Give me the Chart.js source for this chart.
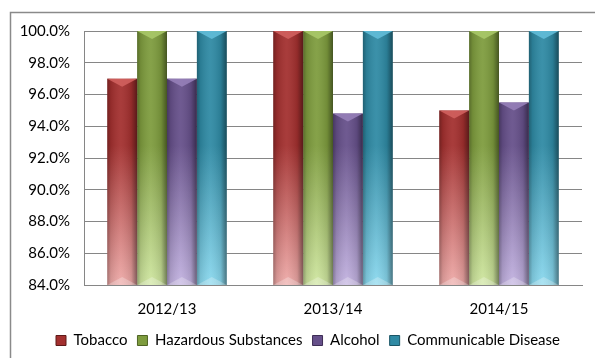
<!DOCTYPE html>
<html>
<head>
<meta charset="utf-8">
<script src="https://cdn.jsdelivr.net/npm/chart.js@4"></script>
<style>
  html, body { margin: 0; padding: 0; background: #fff; }
  #wrap { width: 595px; height: 358px; position: relative; }
</style>
</head>
<body>
<div id="wrap"><canvas id="c"></canvas></div>
<script>
const years = ['2012/13', '2013/14', '2014/15'];
const tobacco = [97.0, 100.0, 95.0];
const hazardous = [100.0, 100.0, 100.0];
const alcohol = [97.0, 94.8, 95.5];
const communicable = [100.0, 100.0, 100.0];
const seriesNames = ['Tobacco', 'Hazardous Substances', 'Alcohol', 'Communicable Disease'];

// top colour, bottom (light) colour, edge shade, bevel highlight
const palette = [
  { top: '#a3302f', bottom: '#eeaaa8', edge: '#5e1a19', bevel: '#d0605e' },
  { top: '#7e9c3e', bottom: '#cfe6a0', edge: '#4f6424', bevel: '#a8c868' },
  { top: '#66508a', bottom: '#c2b2e0', edge: '#3d2d55', bevel: '#9680b8' },
  { top: '#2f8aa4', bottom: '#8ad8ee', edge: '#1a5566', bevel: '#62bcd8' }
];

function barFill(i) {
  return (ctx) => {
    const chart = ctx.chart;
    const area = chart.chartArea;
    if (!area) return palette[i].top;
    const g = chart.ctx.createLinearGradient(0, area.top, 0, area.bottom);
    g.addColorStop(0, palette[i].top);
    g.addColorStop(0.45, palette[i].top);
    g.addColorStop(1, palette[i].bottom);
    return g;
  };
}

const dataSets = [tobacco, hazardous, alcohol, communicable].map((vals, i) => ({
  label: seriesNames[i],
  data: vals,
  backgroundColor: barFill(i),
  borderWidth: 0,
  barPercentage: 1.0,
  categoryPercentage: 0.72
}));

// Bevelled prism look: dark side shading plus light top/bottom facets
const bevelPlugin = {
  id: 'bevel',
  afterDatasetsDraw(chart) {
    const c = chart.ctx;
    const area = chart.chartArea;
    c.save();
    c.beginPath();
    c.rect(area.left, area.top, area.right - area.left, area.bottom - area.top);
    c.clip();
    chart.data.datasets.forEach((ds, di) => {
      const meta = chart.getDatasetMeta(di);
      meta.data.forEach((bar) => {
        const p = bar.getProps(['x', 'y', 'base', 'width'], true);
        const l = p.x - p.width / 2, r = p.x + p.width / 2;
        const t = p.y, b = Math.min(p.base, area.bottom);
        const bev = Math.min(8, (b - t) / 2);
        c.save();
        // side shading
        const h = c.createLinearGradient(l, 0, r, 0);
        h.addColorStop(0, 'rgba(0,0,0,0.30)');
        h.addColorStop(0.12, 'rgba(0,0,0,0.10)');
        h.addColorStop(0.45, 'rgba(255,255,255,0.06)');
        h.addColorStop(0.8, 'rgba(0,0,0,0.10)');
        h.addColorStop(1, 'rgba(0,0,0,0.45)');
        c.fillStyle = h;
        c.fillRect(l, t, r - l, b - t);
        // top facet
        c.beginPath();
        c.moveTo(l, t);
        c.lineTo(r, t);
        c.lineTo(p.x, t + bev);
        c.closePath();
        c.fillStyle = palette[di].bevel;
        c.globalAlpha = 0.9;
        c.fill();
        // bottom facet
        c.beginPath();
        c.moveTo(l, b);
        c.lineTo(r, b);
        c.lineTo(p.x, b - bev);
        c.closePath();
        c.fillStyle = 'rgba(255,255,255,0.25)';
        c.globalAlpha = 1;
        c.fill();
        c.restore();
      });
    });
    c.restore();
  }
};

// Outer frame of the chart object
const framePlugin = {
  id: 'frame',
  beforeDraw(chart) {
    const c = chart.ctx;
    c.save();
    c.fillStyle = '#fff';
    c.fillRect(0, 0, chart.width, chart.height);
    c.strokeStyle = '#8a8a8a';
    c.lineWidth = 1.5;
    c.beginPath();
    c.moveTo(10.5, chart.height + 2);
    c.lineTo(10.5, 12.5);
    c.lineTo(chart.width + 2, 12.5);
    c.stroke();
    c.restore();
  }
};

// The frame continues past the right edge, so centre the legend a bit further right
const legendShift = {
  id: 'legendShift',
  afterLayout(chart) {
    if (chart.legend) {
      chart.legend.left += 12;
      chart.legend.right += 12;
    }
  }
};

const FONT = 'Lato, "Open Sans", sans-serif';

new Chart(document.getElementById('c'), {
  type: 'bar',
  data: { labels: years, datasets: dataSets },
  options: {
    responsive: true,
    maintainAspectRatio: false,
    animation: false,
    layout: { padding: { left: 10, right: 13, top: 31, bottom: 0 } },
    plugins: {
      tooltip: { enabled: false },
      legend: {
        position: 'bottom',
        labels: {
          boxWidth: 10,
          boxHeight: 10,
          padding: 10,
          color: '#000',
          font: { family: FONT, size: 15 },
          generateLabels(chart) {
            return chart.data.datasets.map((ds, i) => ({
              text: ds.label,
              fillStyle: palette[i].top,
              strokeStyle: palette[i].edge,
              lineWidth: 1,
              datasetIndex: i,
              hidden: false
            }));
          }
        }
      }
    },
    scales: {
      x: {
        grid: { display: false, drawTicks: false },
        border: { color: '#868686', width: 1 },
        ticks: { color: '#000', font: { family: FONT, size: 15 }, padding: 15 },
        afterFit(s) { s.height = 38; }
      },
      y: {
        min: 84,
        max: 100,
        ticks: {
          stepSize: 2,
          color: '#000',
          padding: 14,
          font: { family: FONT, size: 15 },
          callback: (v) => v.toFixed(1) + '%'
        },
        grid: { color: '#868686', lineWidth: 1, drawTicks: false },
        border: { display: true, color: '#868686' },
        afterFit(s) { s.width = 74; }
      }
    }
  },
  plugins: [framePlugin, bevelPlugin, legendShift]
});
</script>
</body>
</html>
